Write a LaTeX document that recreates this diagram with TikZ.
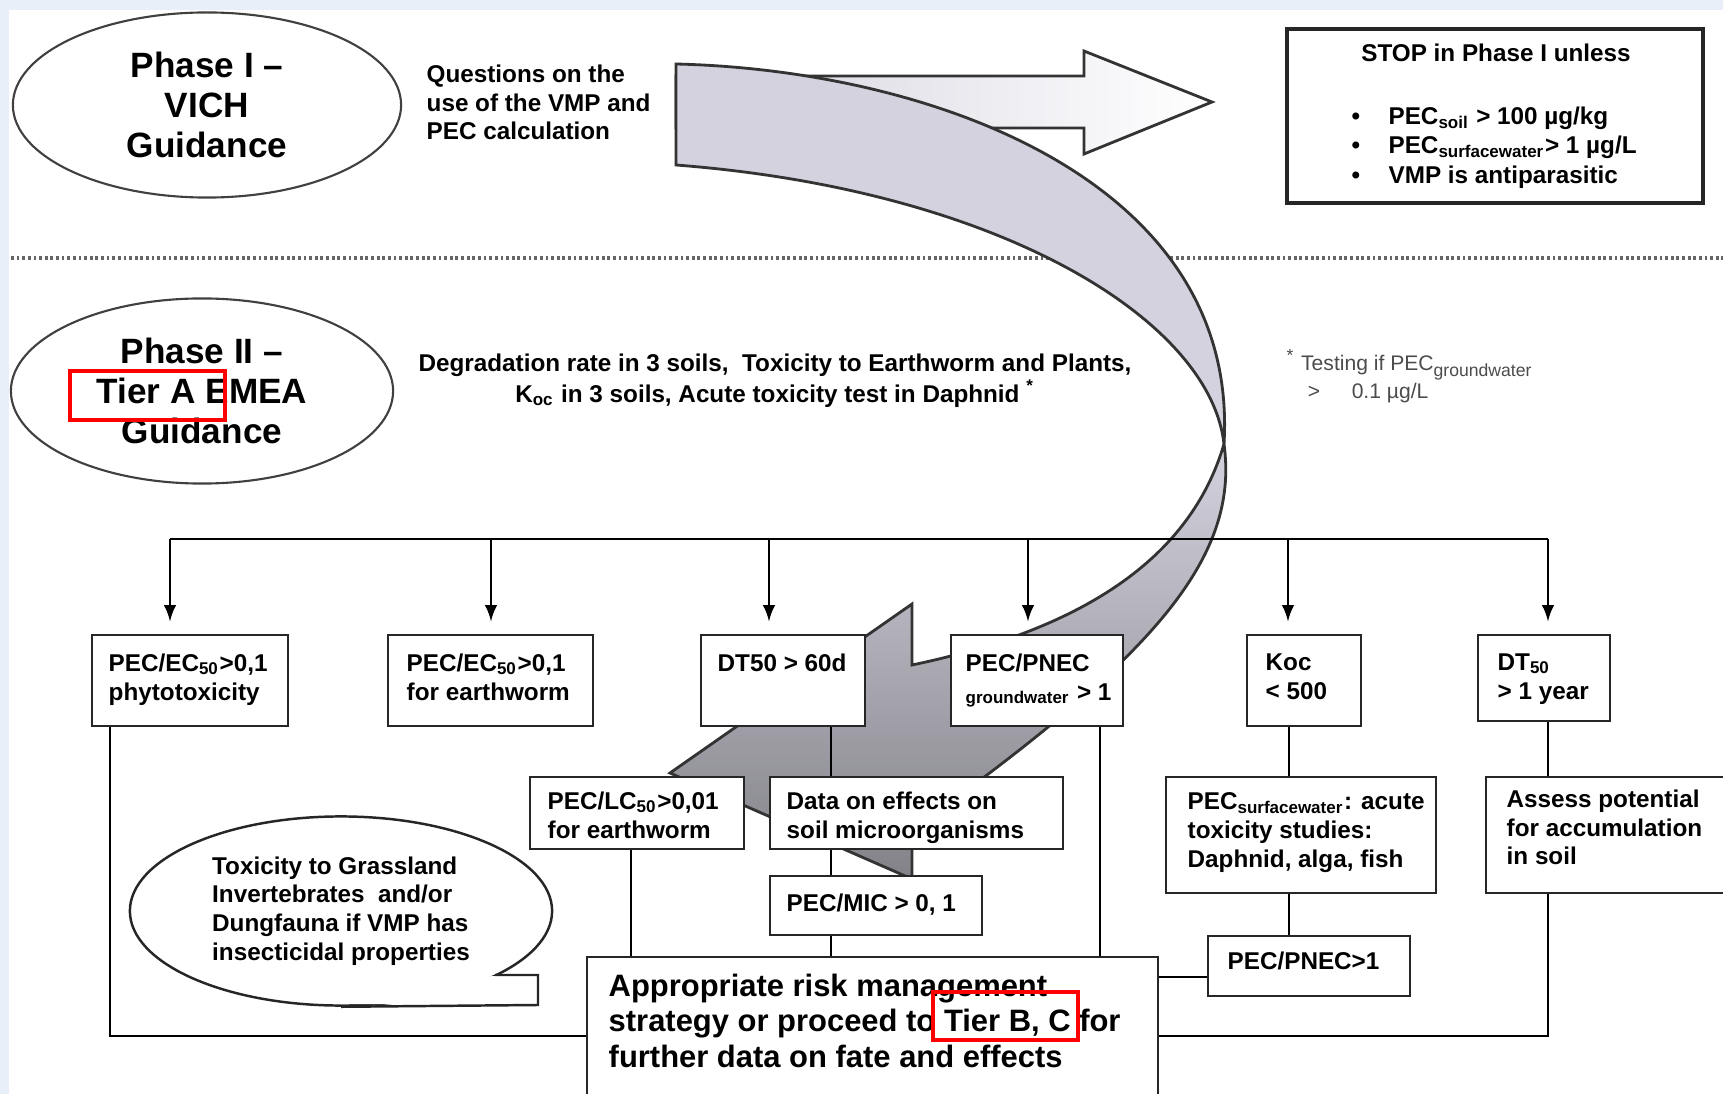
\documentclass[tikz,border=0pt]{standalone}
\usepackage{fontspec}
\setmainfont{Liberation Sans}
\usepackage{tikz}
\usetikzlibrary{arrows,positioning,fit,shapes.geometric}
\definecolor{bandgray}{RGB}{212,210,222}
\definecolor{headgray}{RGB}{130,130,136}
\definecolor{slideblue}{RGB}{232,239,249}

\begin{document}
\begin{tikzpicture}[
x=0.01cm, y=-0.01cm,
font=\bfseries\fontsize{6.9}{8.2}\selectfont,
>=latex,
box/.style={draw=black!85, line width=0.75pt, fill=white, inner sep=0pt},
txt/.style={inner sep=0pt, align=left, anchor=north west},
phase/.style={ellipse, draw=black!75, line width=0.6pt, fill=white, align=center,
  font=\bfseries\fontsize{10}{11.4}\selectfont},
conn/.style={line width=0.6pt},
redbox/.style={draw=red, line width=1.1pt, inner sep=0pt},
arrowline/.style={draw=black!80, line width=0.8pt}]
    % Page and slide background
    \useasboundingbox (0,0) rectangle (1723,1094);
    \clip (0,0) rectangle (1723,1094);
    \fill[slideblue] (0,0) rectangle (1723,1094);
    \fill[white] (9,10) rectangle (1723,1094);

    % Phase I
    \node (phaseone) [phase, minimum width=3.88cm, minimum height=1.85cm] at (207,105)
        {Phase I --\\VICH\\Guidance};
    \node (vmpq) [txt] at (426,64) {Questions on the\\use of the VMP and\\PEC calculation};

    \node (stopbox) [box, line width=1pt, fit={(1287,29) (1703,203)}] {};
    \node (stoptitle) [inner sep=0pt] at (1496,53) {STOP in Phase I unless};
    \node (stoplist) [txt, font=\bfseries\fontsize{6.9}{8.4}\selectfont] at (1351,106)
        {\makebox[10.5pt][l]{\textbullet}PEC\textsubscript{soil} > 100 µg/kg\\
         \makebox[10.5pt][l]{\textbullet}PEC\textsubscript{surfacewater}> 1 µg/L\\
         \makebox[10.5pt][l]{\textbullet}VMP is antiparasitic};

    \draw[line width=1.3pt, black!60, dash pattern=on 0.8pt off 0.8pt] (11,258) -- (1723,258);

    % Big arrows
    \path[arrowline, left color=bandgray, right color=white]
        (676,76) -- (1084,76) -- (1084,51) -- (1212,102) -- (1084,154) -- (1084,128) -- (676,128) -- cycle;
    \path[arrowline, fill=bandgray]
        (676,64) .. controls (930,70) and (1240,180) .. (1224,444)
        .. controls (1210,320) and (1000,190) .. (676,165) -- cycle;
    \path[arrowline, top color=bandgray, bottom color=headgray]
        (1224,444) .. controls (1240,560) and (1150,660) .. (912,830)
        -- (912,879) -- (670,773) -- (912,604) -- (912,665)
        .. controls (1080,630) and (1190,560) .. (1224,444) -- cycle;

    % Phase II
    \node (phasetwo) [phase, minimum width=3.82cm, minimum height=1.85cm] at (202,391)
        {Phase II --\\Tier A EMEA\\Guidance};
    \node (tierared) [redbox, fit={(70,371) (225,420)}] {};
    \node (phasetwotests) [inner sep=0pt, align=center, anchor=north,
        font=\bfseries\fontsize{6.9}{8.8}\selectfont] at (775,353)
        {Degradation rate in 3 soils,\ \ Toxicity to Earthworm and Plants,\\
         K\textsubscript{oc} in 3 soils, Acute toxicity test in Daphnid \textsuperscript{*}};
    \node (gwnote) [txt, font=\fontsize{6}{8}\selectfont, text=black!70] at (1286,349)
        {\textsuperscript{*} Testing if PEC\textsubscript{groundwater}\\
         \hspace{6pt}>\hspace{9pt}0.1 µg/L};

    % Tier A boxes
    \node (b1) [box, fit={(92,635) (288,726)}] {};
    \node (b2) [box, fit={(388,635) (593,726)}] {};
    \node (b3) [box, fit={(701,635) (865,726)}] {};
    \node (b4) [box, fit={(951,635) (1123,726)}] {};
    \node (b5) [box, fit={(1247,635) (1361,726)}] {};
    \node (b6) [box, fit={(1478,635) (1610,721)}] {};
    \node (c1) [box, fit={(530,777) (744,849)}] {};
    \node (c2) [box, fit={(770,777) (1063,849)}] {};
    \node (c3) [box, fit={(770,876) (982,935)}] {};
    \node (c4) [box, fit={(1166,777) (1436,893)}] {};
    \node (c5) [box, fit={(1486,777) (1740,893)}] {};
    \node (c6) [box, fit={(1208,936) (1410,996)}] {};
    \node (bigbox) [box, fit={(587,957) (1158,1120)}] {};

    \node (b1t) [txt] at (108,653) {PEC/EC\textsubscript{50}>0,1\\phytotoxicity};
    \node (b2t) [txt] at (406,653) {PEC/EC\textsubscript{50}>0,1\\for earthworm};
    \node (b3t) [txt] at (717,653) {DT50 > 60d};
    \node (b4t) [txt] at (965,653) {PEC/PNEC\\\textsubscript{groundwater} > 1};
    \node (b5t) [txt] at (1265,653) {Koc\\< 500};
    \node (b6t) [txt] at (1497,653) {DT\textsubscript{50}\\> 1 year};
    \node (c1t) [txt] at (547,791) {PEC/LC\textsubscript{50}>0,01\\for earthworm};
    \node (c2t) [txt] at (786,791) {Data on effects on\\soil microorganisms};
    \node (c3t) [txt] at (786,893) {PEC/MIC > 0, 1};
    \node (c4t) [txt] at (1187,792) {PEC\textsubscript{surfacewater}: acute\\toxicity studies:\\Daphnid, alga, fish};
    \node (c5t) [txt] at (1506,789) {Assess potential\\for accumulation\\in soil};
    \node (c6t) [txt] at (1227,951) {PEC/PNEC>1};
    \node (bigboxt) [txt, font=\bfseries\fontsize{8.8}{10.2}\selectfont] at (608,973)
        {Appropriate risk management\\strategy or proceed to Tier B, C for\\further data on fate and effects};
    \node (tierbcred) [redbox, fit={(933,992) (1078,1040)}] {};

    % Bus with arrows
    \coordinate (bus1) at (170,539);
    \coordinate (bus2) at (491,539);
    \coordinate (bus3) at (769,539);
    \coordinate (bus4) at (1028,539);
    \coordinate (bus5) at (1288,539);
    \coordinate (bus6) at (1548,539);
    \draw[conn] (bus1) -- (bus6);
    \foreach \b/\n in {bus1/b1,bus2/b2,bus3/b3,bus4/b4,bus5/b5,bus6/b6}
        \draw[conn,->,shorten >=3.5pt] (\b) -- (\b |- \n.north);

    % Lines down to the result box
    \coordinate (xa) at (110,1036);
    \coordinate (xc) at (631,0);
    \coordinate (xd) at (831,0);
    \coordinate (xe) at (1100,0);
    \coordinate (xf) at (1289,977);
    \coordinate (xh) at (1548,1036);
    \draw[conn] (b1.south -| xa) -- (xa) -- (xa -| bigbox.west);
    \draw[conn] (c1.south -| xc) -- (bigbox.north -| xc);
    \draw[conn] (b3.south -| xd) -- (c2.north -| xd);
    \draw[conn] (c2.south -| xd) -- (c3.north -| xd);
    \draw[conn] (c3.south -| xd) -- (bigbox.north -| xd);
    \draw[conn] (b4.south -| xe) -- (bigbox.north -| xe);
    \draw[conn] (b5.south -| xf) -- (c4.north -| xf);
    \draw[conn] (c4.south -| xf) -- (c6.north -| xf);
    \draw[conn] (c6.west |- xf) -- (bigbox.east |- xf);
    \draw[conn] (b6.south -| xh) -- (c5.north -| xh);
    \draw[conn] (c5.south -| xh) -- (xh) -- (xh -| bigbox.east);

    % Callout
    \node (grassland) [ellipse, draw=black!85, line width=0.7pt, fill=white,
        minimum width=4.22cm, minimum height=1.89cm, align=left] at (341,911)
        {Toxicity to Grassland\\Invertebrates\ \ and/or\\Dungfauna if VMP has\\insecticidal properties};
    \fill[white] (341,1004) -- (537,1004) -- (537,976) -- (492,976) -- cycle;
    \draw[black!85, line width=0.7pt] (grassland.south) -- (538,1005) -- (538,975) -- (495,975);

\end{tikzpicture}
\end{document}
